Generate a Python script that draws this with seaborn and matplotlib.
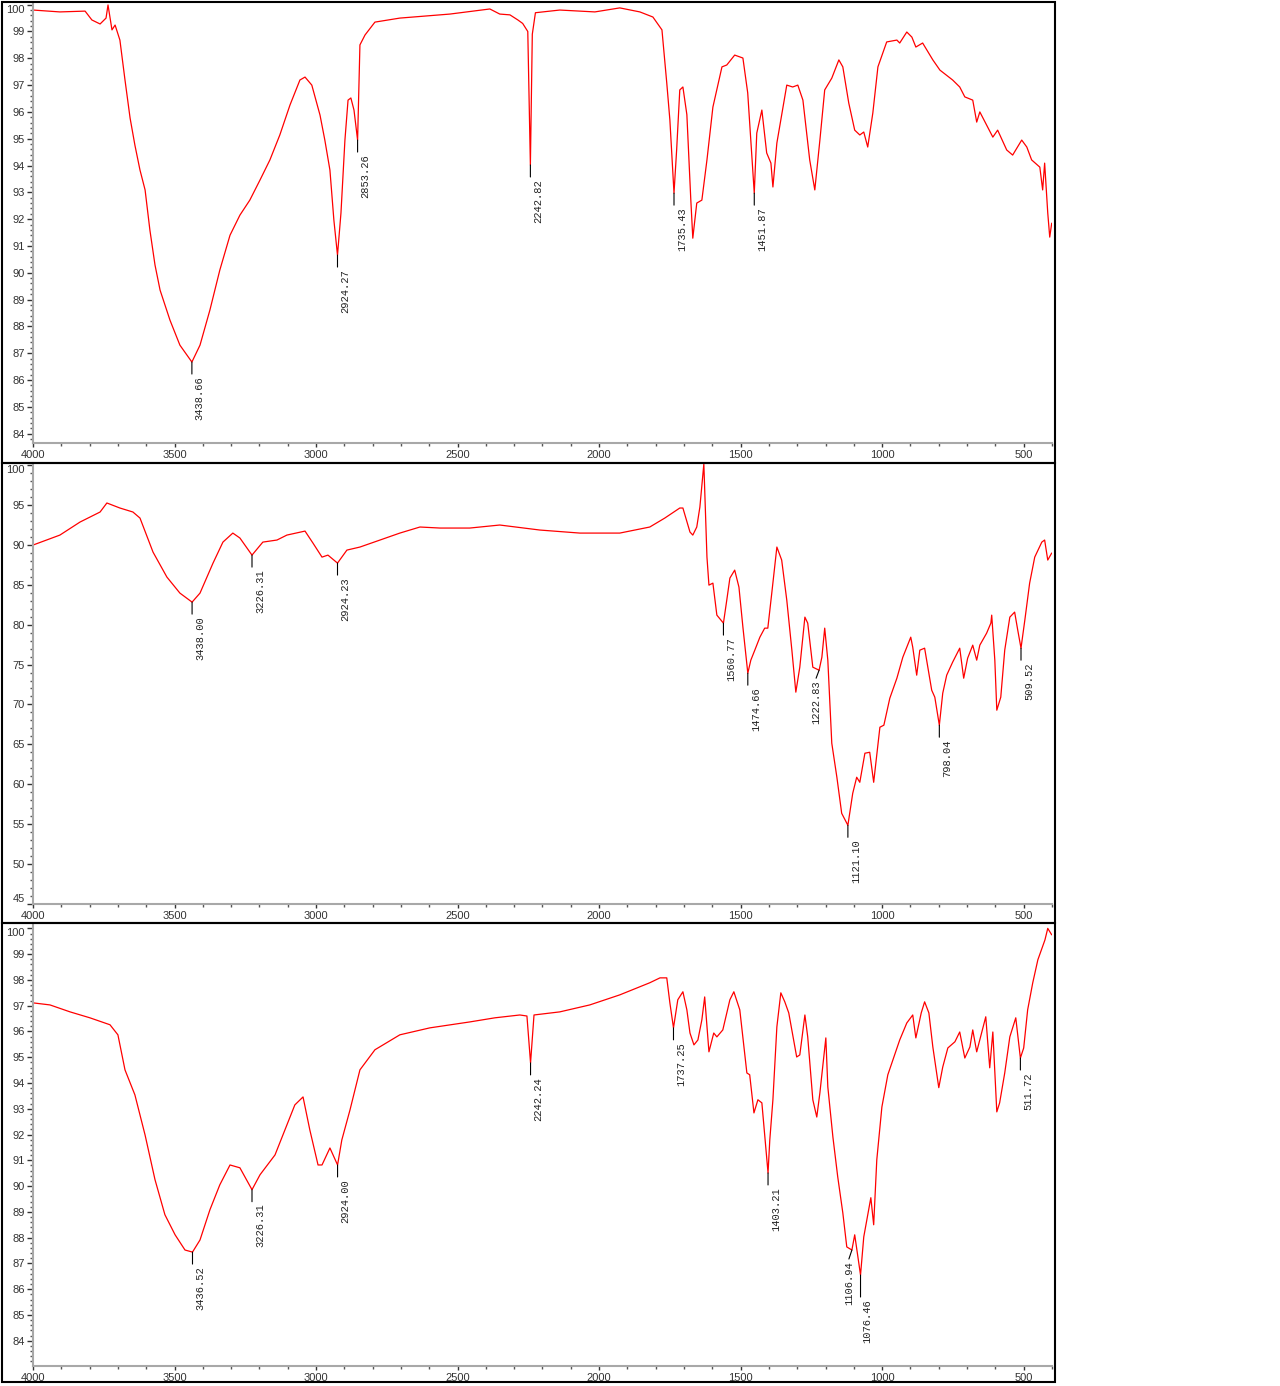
import numpy as np
import pandas as pd
import matplotlib
matplotlib.use("Agg")
import matplotlib.pyplot as plt
from matplotlib.patches import Rectangle
from matplotlib.ticker import AutoMinorLocator
import seaborn as sns

# Spectrum 1 (top): wavenumber (cm-1) and transmittance (%)
wn1 = [4000, 3905, 3816, 3792, 3763, 3742, 3735, 3721, 3710, 3693, 3675, 3657, 3640, 3622, 3604,
       3587, 3569, 3551, 3516, 3481, 3438.66, 3410, 3375, 3340, 3304, 3269, 3234, 3198, 3163, 3128,
       3092, 3057, 3039, 3015, 2986, 2969, 2951, 2937, 2924.27, 2912, 2898, 2887, 2877, 2866, 2853.26,
       2845, 2827, 2792, 2704, 2527, 2386, 2351, 2315, 2287, 2270, 2252, 2242.82, 2236, 2225, 2139,
       2015, 1927, 1856, 1810, 1778, 1761, 1750, 1735.43, 1726, 1715, 1704, 1690, 1676, 1669, 1655,
       1637, 1619, 1598, 1566, 1549, 1521, 1492, 1475, 1451.87, 1443, 1425, 1408, 1393, 1386, 1372,
       1337, 1316, 1298, 1280, 1256, 1238, 1220, 1203, 1178, 1153, 1139, 1118, 1097, 1079, 1065,
       1051, 1033, 1015, 984, 948, 938, 913, 895, 881, 857, 821, 796, 751, 726, 708, 680, 666, 655,
       631, 609, 592, 560, 539, 507, 489, 472, 443, 433, 426, 415, 408, 401]
t1 = [99.80, 99.73, 99.76, 99.43, 99.28, 99.50, 99.99, 99.06, 99.24, 98.68, 97.19, 95.77, 94.76, 93.83, 93.09,
      91.59, 90.29, 89.35, 88.23, 87.30, 86.67, 87.30, 88.61, 90.10, 91.40, 92.15, 92.71, 93.46, 94.21, 95.14,
      96.26, 97.19, 97.30, 97.00, 95.88, 94.95, 93.83, 91.96, 90.66, 92.23, 94.95, 96.44, 96.52, 96.07, 94.95,
      98.50, 98.87, 99.35, 99.50, 99.65, 99.84, 99.65, 99.62, 99.43, 99.30, 99.00, 94.02, 98.90, 99.70, 99.80,
      99.73, 99.88, 99.73, 99.54, 99.06, 97.08, 95.70, 92.97, 94.60, 96.82, 96.93, 95.90, 92.71, 91.29, 92.60,
      92.71, 94.21, 96.18, 97.68, 97.75, 98.12, 98.01, 96.71, 92.97, 95.21, 96.07, 94.47, 94.09, 93.20, 94.84,
      97.00, 96.93, 97.00, 96.44, 94.21, 93.09, 94.95, 96.82, 97.26, 97.94, 97.68, 96.33, 95.32, 95.14, 95.25,
      94.69, 95.96, 97.68, 98.61, 98.68, 98.57, 98.98, 98.79, 98.42, 98.57, 97.94, 97.56, 97.19, 96.93, 96.56,
      96.44, 95.62, 96.00, 95.51, 95.06, 95.32, 94.58, 94.39, 94.95, 94.69, 94.21, 93.94, 93.09, 94.09, 92.23,
      91.33, 91.85]
peaks1 = [3438.66, 2924.27, 2853.26, 2242.82, 1735.43, 1451.87]

# Spectrum 2 (middle)
wn2 = [4000, 3905, 3834, 3763, 3739, 3693, 3647, 3622, 3576, 3527, 3481, 3438.00, 3410, 3364, 3329,
       3294, 3269, 3226.31, 3188, 3138, 3103, 3039, 3011, 2979, 2958, 2924.23, 2891, 2845, 2774, 2704,
       2633, 2562, 2457, 2351, 2209, 2068, 1927, 1821, 1768, 1715, 1704, 1679, 1669, 1655, 1644, 1630,
       1619, 1612, 1598, 1584, 1560.77, 1549, 1538, 1521, 1506, 1492, 1474.66, 1464, 1450, 1432, 1415,
       1404, 1390, 1372, 1355, 1337, 1319, 1305, 1291, 1273, 1263, 1245, 1222.83, 1213, 1203, 1192, 1178,
       1160, 1143, 1121.10, 1104, 1090, 1079, 1061, 1044, 1030, 1008, 994, 973, 948, 927, 899, 892, 878,
       867, 850, 825, 814, 798.04, 786, 772, 751, 726, 712, 698, 680, 666, 655, 631, 616, 613, 602, 595,
       581, 567, 549, 532, 521, 509.52, 496, 479, 461, 436, 426, 415, 401]
t2 = [89.97, 91.22, 92.85, 94.11, 95.24, 94.61, 94.11, 93.35, 89.09, 85.96, 83.95, 82.82, 83.95, 87.71, 90.34,
      91.47, 90.85, 88.71, 90.34, 90.60, 91.22, 91.72, 90.22, 88.46, 88.71, 87.71, 89.34, 89.72, 90.60, 91.47,
      92.23, 92.10, 92.10, 92.48, 91.85, 91.47, 91.47, 92.23, 93.35, 94.61, 94.61, 91.60, 91.22, 92.23, 94.73, 100.13,
      88.46, 84.95, 85.20, 81.19, 80.19, 83.07, 85.83, 86.83, 84.70, 79.69, 73.92, 75.55, 76.80, 78.43, 79.56,
      79.56, 83.95, 89.72, 88.09, 83.07, 76.80, 71.54, 74.67, 80.94, 80.19, 74.67, 74.29, 75.92, 79.56, 75.55, 65.14,
      60.88, 56.36, 54.86, 58.87, 60.88, 60.25, 63.89, 64.01, 60.25, 67.15, 67.40, 70.78, 73.29, 75.92, 78.43, 77.18, 73.67,
      76.80, 77.05, 71.79, 70.91, 67.40, 71.41, 73.67, 75.30, 77.05, 73.29, 75.80, 77.43, 75.55, 77.43, 78.93, 80.19, 81.19, 75.55, 69.28,
      70.91, 76.80, 80.94, 81.57, 79.31, 77.05, 80.56, 85.20, 88.46, 90.34, 90.60, 88.09, 88.97]
peaks2 = [3438.00, 3226.31, 2924.23, 1560.77, 1474.66, 1222.83, 1121.10, 798.04, 509.52]

# Spectrum 3 (bottom)
wn3 = [4000, 3940, 3869, 3799, 3728, 3700, 3675, 3640, 3604, 3569, 3534, 3498, 3463, 3436.52, 3410,
       3375, 3340, 3304, 3269, 3226.31, 3198, 3145, 3110, 3075, 3046, 3022, 2993, 2979, 2951, 2924.00,
       2909, 2880, 2845, 2792, 2704, 2598, 2457, 2368, 2280, 2255, 2242.24, 2230, 2139, 2033, 1927, 1821,
       1785, 1761, 1750, 1737.25, 1722, 1704, 1690, 1679, 1665, 1651, 1637, 1627, 1619, 1612, 1595, 1584,
       1563, 1538, 1524, 1503, 1478, 1468, 1453, 1439, 1425, 1403.21, 1397, 1386, 1372, 1358, 1344, 1330,
       1302, 1291, 1273, 1263, 1245, 1231, 1220, 1199, 1192, 1174, 1157, 1139, 1125, 1106.94, 1097, 1076.46,
       1065, 1040, 1030, 1019, 1001, 980, 962, 938, 913, 892, 881, 862, 850, 835, 821, 800, 786, 768, 743,
       726, 708, 690, 680, 666, 648, 634, 620, 609, 595, 585, 567, 549, 528, 511.72, 500, 486, 468, 450,
       425, 415, 401]
t3 = [97.11, 97.03, 96.76, 96.53, 96.26, 95.87, 94.51, 93.54, 91.98, 90.25, 88.89, 88.11, 87.52, 87.44, 87.91,
      89.08, 90.05, 90.82, 90.71, 89.86, 90.44, 91.21, 92.18, 93.15, 93.46, 92.18, 90.82, 90.82, 91.48, 90.82,
      91.79, 92.96, 94.51, 95.29, 95.87, 96.14, 96.37, 96.53, 96.64, 96.60, 94.78, 96.64, 96.76, 97.03, 97.42, 97.89,
      98.08, 98.08, 97.11, 96.14, 97.23, 97.54, 96.84, 95.94, 95.48, 95.67, 96.45, 97.34, 96.18, 95.21, 95.94, 95.79,
      96.06, 97.23, 97.54, 96.84, 94.39, 94.32, 92.84, 93.35, 93.23, 90.51, 91.79, 93.35, 96.18, 97.50, 97.15, 96.72,
      95.01, 95.09, 96.64, 95.79, 93.35, 92.68, 93.62, 95.75, 93.85, 91.90, 90.36, 88.96, 87.64, 87.52, 88.11, 86.55,
      88.03, 89.55, 88.50, 91.02, 93.07, 94.32, 94.90, 95.67, 96.33, 96.64, 95.75, 96.72, 97.15, 96.72, 95.40, 93.82, 94.62, 95.36, 95.60,
      95.98, 94.97, 95.40, 96.06, 95.21, 95.98, 96.57, 94.59, 95.98, 92.88, 93.23, 94.39, 95.79, 96.53, 94.97, 95.36, 96.84, 97.89, 98.78,
      99.55, 100.0, 99.75]
peaks3 = [3436.52, 3226.31, 2924.00, 2242.24, 1737.25, 1403.21, 1106.94, 1076.46, 511.72]

xticks = [4000, 3500, 3000, 2500, 2000, 1500, 1000, 500]

sns.set_style("ticks")
plt.rcParams["font.family"] = ["Liberation Sans", "DejaVu Sans"]

W, H = 1280, 1386
fig = plt.figure(figsize=(12.8, 13.86), dpi=100)

# (axes top px, axes bottom px, ylim, yticks, frame top, frame bottom)
panels = [
    (wn1, t1, peaks1, 2, 443, (83.65, 100.1), list(range(84, 101)), 2, 462.5),
    (wn2, t2, peaks2, 463, 904, (45, 100.25), list(range(45, 101, 5)), 462.5, 922.5),
    (wn3, t3, peaks3, 924, 1366, (83.02, 100.17), list(range(84, 101)), 922.5, 1382),
]

# labels whose text sits off the default spot: (x shift px, lead length px)
label_shift = {1222.83: (-3, 8), 1106.94: (-3, 9), 1076.46: (7, 22)}

for wn, t, peaks, top, bottom, ylim, yt, ftop, fbot in panels:
    ax = fig.add_axes([33 / W, 1 - bottom / H, (1052 - 33) / W, (bottom - top) / H])
    df = pd.DataFrame({"wn": wn, "T": t})
    sns.lineplot(data=df, x="wn", y="T", ax=ax, color="#ff0000", lw=0.9,
                 sort=False, estimator=None)
    ax.set_xlim(4000, 400)
    ax.set_ylim(*ylim)
    ax.set_xticks(xticks)
    ax.set_yticks(yt)
    ax.xaxis.set_minor_locator(AutoMinorLocator(5))
    ax.yaxis.set_minor_locator(AutoMinorLocator(5))
    ax.set_xlabel("")
    ax.set_ylabel("")
    for side in ["top", "right"]:
        ax.spines[side].set_visible(False)
    for side in ["left", "bottom"]:
        ax.spines[side].set_color("#a8a8a8")
        ax.spines[side].set_linewidth(1.5)
    ax.tick_params(axis="both", which="major", labelsize=8, colors="#333333", width=1)
    ax.tick_params(axis="y", which="major", length=4, pad=2)
    ax.tick_params(axis="x", which="major", length=3, pad=2)
    ax.tick_params(axis="both", which="minor", length=2, width=1, color="#555555")

    labels = ax.get_yticklabels()
    labels[-1].set_va("top")
    if ylim[0] == yt[0]:
        labels[0].set_va("bottom")

    # peak markers: short black leader + rotated wavenumber
    wn_asc = np.array(wn)[::-1]
    t_asc = np.array(t)[::-1]
    for p in peaks:
        tp = np.interp(p, wn_asc, t_asc)
        dx, lead = label_shift.get(p, (8, 12))
        line_dx = dx if p in label_shift and dx < 0 else 0
        ax.annotate("", xy=(p, tp), xytext=(line_dx, -lead), textcoords="offset pixels",
                    arrowprops=dict(arrowstyle="-", color="black", lw=0.8,
                                    shrinkA=0, shrinkB=0))
        ax.annotate(f"{p:.2f}", xy=(p, tp), xytext=(dx, -lead - 2), textcoords="offset pixels",
                    rotation=90, ha="center", va="top", fontsize=7.5,
                    family=["Liberation Mono", "DejaVu Sans Mono"], color="#222222")

    fig.add_artist(Rectangle((2 / W, 1 - fbot / H), (1054.5 - 2) / W, (fbot - ftop) / H,
                             transform=fig.transFigure, fill=False, lw=1.5, ec="black"))

fig.savefig("out.png", dpi=100)
